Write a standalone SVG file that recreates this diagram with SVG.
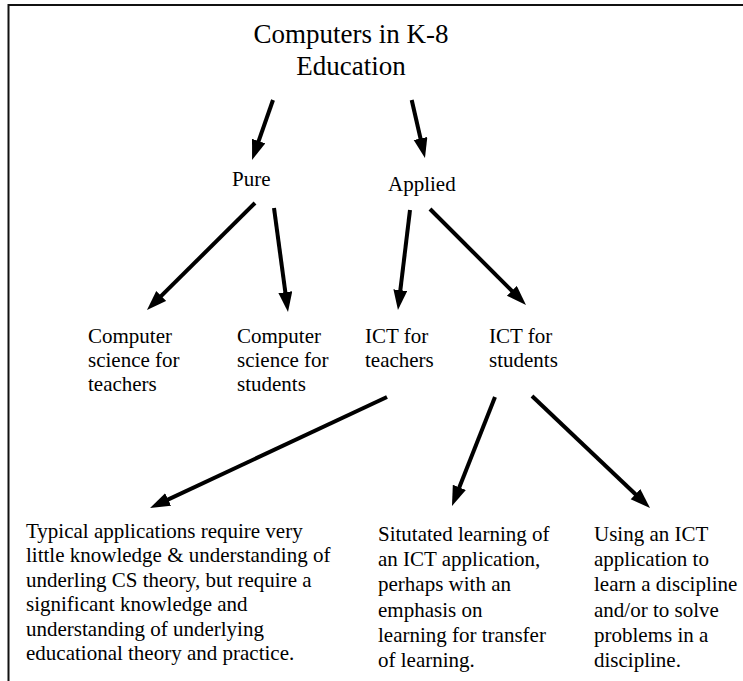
<svg xmlns="http://www.w3.org/2000/svg" width="743" height="681" viewBox="0 0 743 681" font-family="Liberation Serif, Tinos, Times New Roman, DejaVu Serif, serif">
<defs>
<marker id="ah" markerUnits="userSpaceOnUse" markerWidth="22" markerHeight="16" refX="8" refY="7" orient="auto">
<path d="M0,0 L20,7 L0,14 z" fill="#000"/>
</marker>
<style>
text{font-size:21px;fill:#000}
.title{font-size:27px;text-anchor:middle}
.edge{stroke:#000;stroke-width:4;fill:none;marker-end:url(#ah)}
.frame{stroke:#111;stroke-width:2;fill:none}
</style>
</defs>
<rect width="743" height="681" fill="#fff"/>
<path class="frame" d="M8.5,681 V5 H743"/>
<g id="connectors">
<line class="edge" x1="273" y1="100" x2="256" y2="148.7"/>
<line class="edge" x1="411.7" y1="100" x2="422.3" y2="146.3"/>
<line class="edge" x1="255" y1="203" x2="155.5" y2="301.6"/>
<line class="edge" x1="274" y1="208" x2="286.4" y2="300.1"/>
<line class="edge" x1="410" y1="210" x2="399.4" y2="298.1"/>
<line class="edge" x1="430" y1="209" x2="517.5" y2="296.5"/>
<line class="edge" x1="387" y1="397" x2="160.9" y2="502.9"/>
<line class="edge" x1="495" y1="397" x2="456.4" y2="494.8"/>
<line class="edge" x1="532" y1="396" x2="641.3" y2="499.7"/>
</g>
<g font-family="Liberation Serif, Tinos, Times New Roman, DejaVu Serif, serif">
<g id="root"><text class="title" x="351" y="43">Computers in K-8</text><text class="title" x="351" y="75">Education</text></g>
<g id="pure"><text x="232" y="186">Pure</text></g>
<g id="applied"><text x="388" y="191">Applied</text></g>
<g id="cs-teachers"><text x="88" y="343">Computer</text><text x="88" y="367">science for</text><text x="88" y="391">teachers</text></g>
<g id="cs-students"><text x="237" y="343">Computer</text><text x="237" y="367">science for</text><text x="237" y="391">students</text></g>
<g id="ict-teachers"><text x="365" y="343">ICT for</text><text x="365" y="367">teachers</text></g>
<g id="ict-students"><text x="489" y="343">ICT for</text><text x="489" y="367">students</text></g>
<g id="typical"><text x="26" y="538">Typical applications require very</text><text x="26" y="562">little knowledge &amp; understanding of</text><text x="26" y="587">underling CS theory, but require a</text><text x="26" y="611">significant knowledge and</text><text x="26" y="636">understanding of underlying</text><text x="26" y="660">educational theory and practice.</text></g>
<g id="situated"><text x="378" y="541">Situtated learning of</text><text x="378" y="566">an ICT application,</text><text x="378" y="591">perhaps with an</text><text x="378" y="617">emphasis on</text><text x="378" y="642">learning for transfer</text><text x="378" y="667">of learning.</text></g>
<g id="using"><text x="594" y="541">Using an ICT</text><text x="594" y="566">application to</text><text x="594" y="591">learn a discipline</text><text x="594" y="617">and/or to solve</text><text x="594" y="642">problems in a</text><text x="594" y="667">discipline.</text></g>
</g>
</svg>
